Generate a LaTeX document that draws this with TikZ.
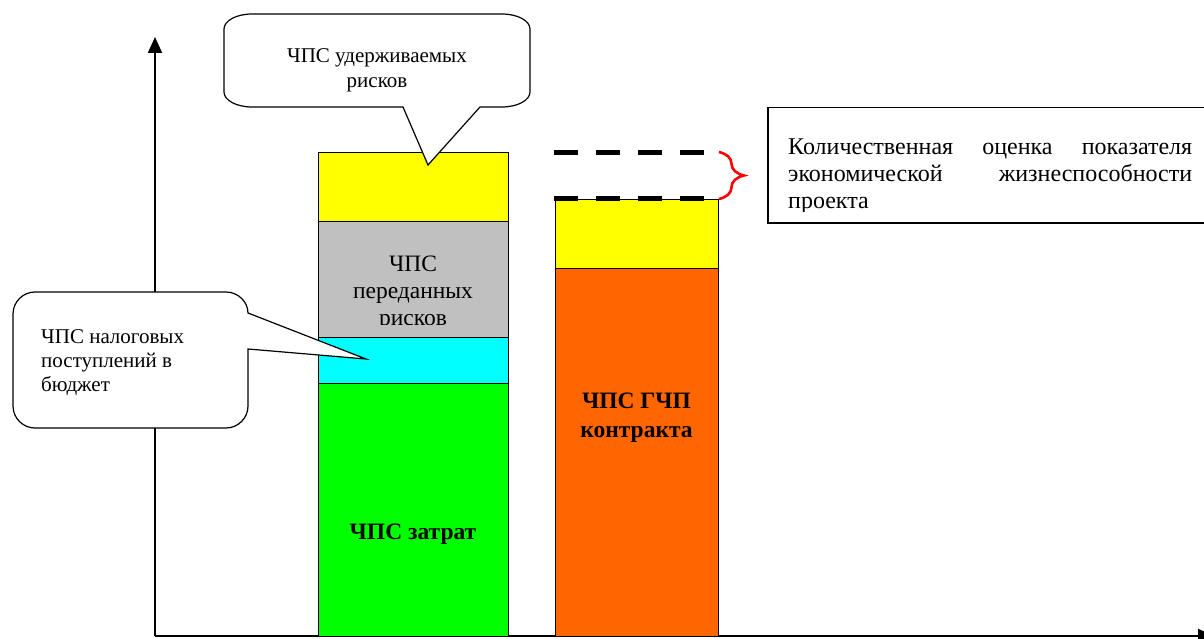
\documentclass[tikz,border=0pt]{standalone}
\usepackage{fontspec}
\setmainfont{Liberation Serif}
\usetikzlibrary{arrows.meta,decorations.pathreplacing}
\definecolor{segYellow}{HTML}{FFFF00}
\definecolor{segGray}{HTML}{C0C0C0}
\definecolor{segCyan}{HTML}{00FFFF}
\definecolor{segGreen}{HTML}{00FF00}
\definecolor{segOrange}{HTML}{FF6600}
\definecolor{braceRed}{HTML}{FF0000}
\begin{document}
\begin{tikzpicture}[x=1pt,y=-1pt,
  seg/.style={draw=black, line width=1.2pt, inner sep=0pt, anchor=north west},
  lbl/.style={font=\fontsize{21}{25}\selectfont, inner sep=0pt},
  boldlbl/.style={font=\fontsize{23.5}{29}\selectfont\bfseries, inner sep=0pt, align=center, anchor=base},
  axis/.style={line width=2pt, -{Triangle[length=16pt,width=14pt]}},
  callout/.style={draw=black, line width=1.2pt, fill=white, line join=miter},
  level/.style={line width=5pt, dash pattern=on 24pt off 18pt},
]
\useasboundingbox (0,0) rectangle (1204,639);

% axes
\coordinate (origin) at (155,636);
\coordinate (ytop) at (155,37);
\coordinate (xend) at (1214,636);
\draw[axis] (origin) -- (ytop);
\draw[axis] (origin) -- (xend);

% left column: cost components
\node[seg, fill=segYellow, minimum width=190pt, minimum height=69pt] (retained) at (318,152) {};
\node[seg, fill=segGray,   minimum width=190pt, minimum height=116pt] (transferred) at (318,221) {};
\node[seg, fill=segCyan,   minimum width=190pt, minimum height=46pt] (taxes) at (318,337) {};
\node[seg, fill=segGreen,  minimum width=190pt, minimum height=253pt] (costs) at (318,383) {};

% right column: PPP contract
\node[seg, fill=segYellow, minimum width=163pt, minimum height=69pt] (margin) at (555,199) {};
\node[seg, fill=segOrange, minimum width=163pt, minimum height=368pt] (contract) at (555,268) {};

% labels inside the columns (anchor base = baseline of the last line)
\begin{scope}
  \clip (318,221) rectangle (508,324);
  \node[lbl, align=center, anchor=base, font=\fontsize{23.5}{27}\selectfont] (transferredTxt) at (413,325) {ЧПС\\переданных\\рисков};
\end{scope}
\node[boldlbl] (costsTxt) at (413,539) {ЧПС затрат};
\node[boldlbl] (contractTxt) at (636.5,437) {ЧПС ГЧП\\контракта};

% dashed levels and brace
\coordinate (topA) at (554,152.5);
\coordinate (topB) at (704,152.5);
\coordinate (lowA) at (554,199);
\coordinate (lowB) at (704,199);
\draw[level] (topA) -- (topB);
\draw[level] (lowA) -- (lowB);
\coordinate (braceTop) at (719,152);
\coordinate (braceBot) at (719,199);
\draw[braceRed, line width=2.6pt, decorate, decoration={brace, amplitude=25pt}] (braceTop) -- (braceBot);

% viability box
\node[draw=black, line width=1.5pt, anchor=north west, minimum width=450pt, minimum height=115pt, inner sep=0pt] (viability) at (767,107) {};
\begin{scope}
  \clip (768,108) rectangle (1204,211);
  \node[anchor=base west, inner sep=0pt, font=\fontsize{24}{27}\selectfont] (viabilityTxt) at (788,155) {%
    \begin{tabular}[t]{@{}l@{}}
    \makebox[404pt][s]{Количественная оценка показателя}\\
    \makebox[404pt][s]{экономической жизнеспособности}\\
    проекта
    \end{tabular}};
\end{scope}

% callout: retained risks
\draw[callout] (252,14) -- (502,14) .. controls (517.5,14) and (530,20.7) .. (530,29)
  -- (530,92) .. controls (530,100.3) and (517.5,107) .. (502,107)
  -- (480,107) -- (428,165) -- (403,107)
  -- (252,107) .. controls (236.5,107) and (224,100.3) .. (224,92)
  -- (224,29) .. controls (224,20.7) and (236.5,14) .. (252,14) -- cycle;
\node[lbl, align=center, anchor=base] (retainedTxt) at (377,88) {ЧПС удерживаемых\\рисков};

% callout: tax revenues
\draw[callout] (35,292) -- (226,292) .. controls (238.1,292) and (248,301.9) .. (248,313)
  -- (366,359) -- (248,349)
  -- (248,406) .. controls (248,418.1) and (238.1,428) .. (226,428)
  -- (35,428) .. controls (22.9,428) and (13,418.1) .. (13,406)
  -- (13,314) .. controls (13,301.9) and (22.9,292) .. (35,292) -- cycle;
\node[lbl, align=left, anchor=base west, font=\fontsize{21}{24}\selectfont] (taxesTxt) at (41,391) {ЧПС налоговых\\поступлений в\\бюджет};
\end{tikzpicture}
\end{document}
